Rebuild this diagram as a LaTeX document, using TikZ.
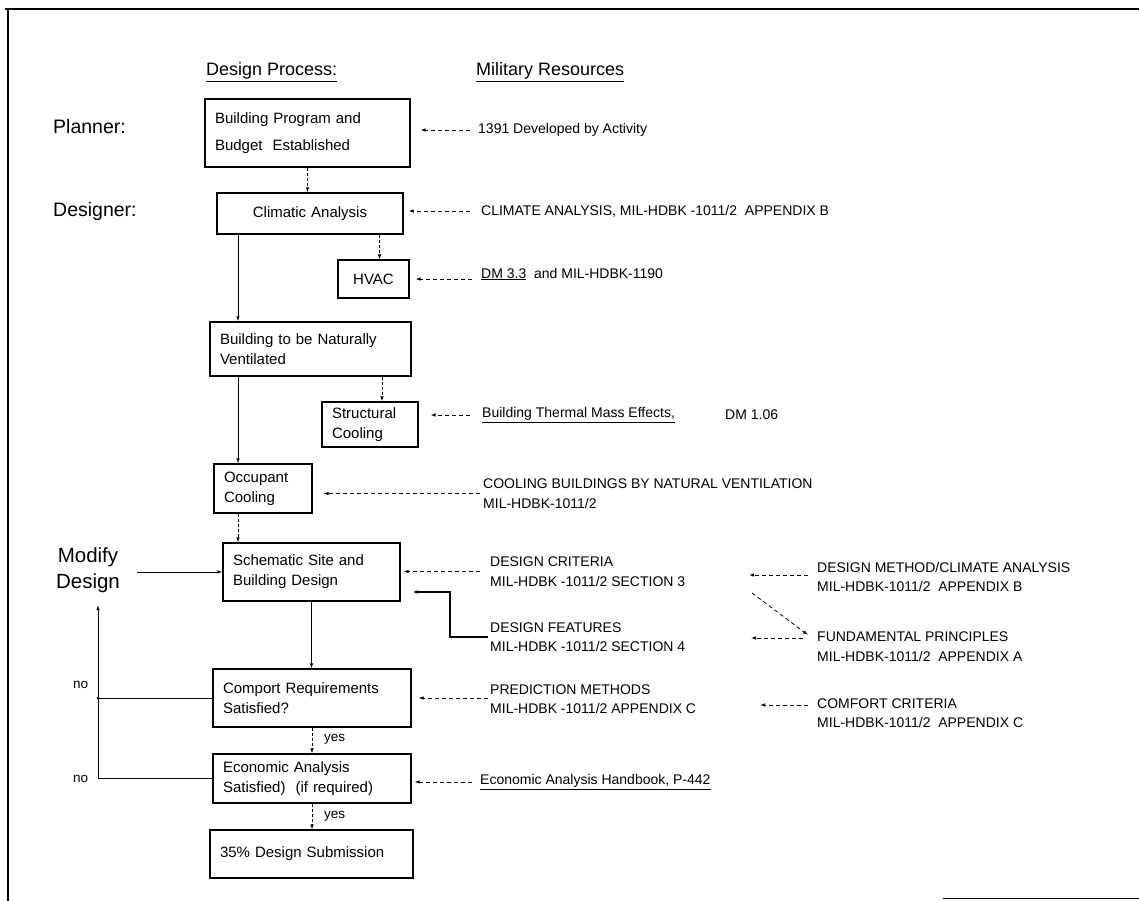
\documentclass[tikz,border=0pt]{standalone}
\usepackage{fontspec}
\setmainfont{Liberation Sans}
\usepackage{tikz}
\usetikzlibrary{arrows.meta, positioning, calc}

\newcommand{\procfont}{\fontsize{15}{20}\selectfont}
\newcommand{\resofont}{\fontsize{14}{19.5}\selectfont}
\newcommand{\headrfont}{\fontsize{18}{22}\selectfont}
\newcommand{\rolefont}{\fontsize{19.5}{24}\selectfont}
\newcommand{\ynfont}{\fontsize{13.5}{16}\selectfont}

\begin{document}
\begin{tikzpicture}[x=1pt, y=-1pt]
    % Define styles
    \tikzstyle{procbox}=[draw, rectangle, line width=1.2pt, align=left, inner xsep=10pt, inner ysep=0pt, font=\procfont]
    \tikzstyle{restext}=[anchor=west, inner sep=0pt, align=left, font=\resofont]
    \tikzstyle{flowline}=[line width=0.9pt]
    \tikzstyle{flowarrow}=[line width=0.9pt, -{Latex[length=5pt, width=3.5pt]}]
    \tikzstyle{flowdash}=[line width=0.8pt, dash pattern=on 3pt off 2pt, -{Latex[length=5pt, width=3.5pt]}]
    \tikzstyle{refarrow}=[line width=0.8pt, dash pattern=on 4pt off 3pt, -{Latex[length=5pt, width=3.5pt]}]

    \useasboundingbox (0,0) rectangle (1139,901);

    % Page frame
    \draw[line width=1.5pt] (5,9) -- (1139,9);
    \draw[line width=1.5pt] (8,9) -- (8,901);
    \draw[line width=1pt] (943,898) -- (1139,898);

    % Column headings and roles
    \node[anchor=west, inner sep=0pt, font=\headrfont] (hproc) at (206,72) {\underline{Design Process:}};
    \node[anchor=west, inner sep=0pt, font=\headrfont] (hmil) at (476,72) {\underline{Military Resources}};
    \node[anchor=west, inner sep=0pt, font=\rolefont] (planner) at (53,127) {Planner:};
    \node[anchor=west, inner sep=0pt, font=\rolefont] (designer) at (53,211) {Designer:};

    % Design process boxes
    \node[procbox, text width=185pt, minimum height=68pt, font=\fontsize{15}{27}\selectfont] (prog) at (307.5,133) {Building Program and\\Budget\ \ Established};
    \node[procbox, text width=166pt, minimum height=41pt, align=center] (clim) at (310,213.5) {Climatic Analysis};
    \node[procbox, text width=51pt, minimum height=38pt, align=center] (hvac) at (373.5,279) {HVAC};
    \node[procbox, text width=181pt, minimum height=54pt] (natvent) at (310.5,349) {Building to be Naturally\\Ventilated};
    \node[procbox, text width=76pt, minimum height=45pt] (struct) at (370,424.5) {Structural\\Cooling};
    \node[procbox, text width=78pt, minimum height=49pt] (occ) at (263,488.5) {Occupant\\Cooling};
    \node[procbox, text width=157pt, minimum height=58pt] (schem) at (311.5,572) {Schematic Site and\\Building Design};
    \node[procbox, text width=178pt, minimum height=58pt] (comf) at (312,698) {Comport Requirements\\Satisfied?};
    \node[procbox, text width=178pt, minimum height=49pt] (econ) at (312,778.5) {Economic Analysis\\Satisfied)\ \ (if required)};
    \node[procbox, text width=183pt, minimum height=48pt] (subm) at (311.5,854) {35\% Design Submission};

    % Main flow
    \coordinate (spine) at (238,0);
    \draw[flowdash] (prog.south) -- (prog.south |- clim.north);
    \draw[flowdash] ([xshift=6pt]clim.south -| hvac.north) -- ([xshift=6pt]hvac.north);
    \draw[flowarrow] (clim.south -| spine) -- (natvent.north -| spine);
    \draw[flowdash] ([xshift=12pt]natvent.south -| struct.north) -- ([xshift=12pt]struct.north);
    \draw[flowarrow] (natvent.south -| spine) -- (occ.north -| spine);
    \draw[flowdash] (occ.south -| spine) -- (schem.north -| spine);
    \draw[flowarrow] (schem.south) -- (schem.south |- comf.north);
    \draw[flowdash] (comf.south) -- (comf.south |- econ.north);
    \draw[flowdash] (econ.south) -- (econ.south |- subm.north);
    \node[anchor=west, inner sep=0pt, font=\ynfont] (yes1) at (324,739) {yes};
    \node[anchor=west, inner sep=0pt, font=\ynfont] (yes2) at (324,816) {yes};

    % Feedback loop
    \node[align=center, inner sep=0pt, font=\fontsize{20.5}{26}\selectfont] (modify) at (88,570) {Modify\\Design};
    \coordinate (fbtop) at (98,605);
    \coordinate (modtail) at (137,572);
    \draw[flowarrow] (econ.west) -| (fbtop);
    \draw[flowline] (comf.west) -- (comf.west -| fbtop);
    \fill (comf.west -| fbtop) circle (1.5pt);
    \draw[flowarrow] (modtail) -- (schem.west);
    \node[anchor=west, inner sep=0pt, font=\ynfont] (no1) at (73,685) {no};
    \node[anchor=west, inner sep=0pt, font=\ynfont] (no2) at (73,779) {no};

    % Military resources
    \node[restext] (r1391) at (478,130) {1391 Developed by Activity};
    \node[restext] (rclim) at (481,211) {CLIMATE ANALYSIS, MIL-HDBK -1011/2\ \ APPENDIX B};
    \node[restext] (rhvac) at (481,274) {\underline{DM 3.3}\ \ and MIL-HDBK-1190};
    \node[restext] (rmass) at (482,415) {\underline{Building Thermal Mass Effects,}};
    \node[restext] (rmassdm) at (725,415) {DM 1.06};
    \node[restext] (rcool) at (483,493.5) {COOLING BUILDINGS BY NATURAL VENTILATION\\MIL-HDBK-1011/2};
    \node[restext] (rcrit) at (490,571.5) {DESIGN CRITERIA\\MIL-HDBK -1011/2 SECTION 3};
    \node[restext] (rfeat) at (490,637) {DESIGN FEATURES\\MIL-HDBK -1011/2 SECTION 4};
    \node[restext] (rpred) at (490,699) {PREDICTION METHODS\\MIL-HDBK -1011/2 APPENDIX C};
    \node[restext] (recon) at (480,782) {\underline{Economic Analysis Handbook, P-442}};

    \draw[refarrow] ([xshift=-8pt]r1391.west) -- ([xshift=10pt]r1391.west -| prog.east);
    \draw[refarrow] ([xshift=-11pt]rclim.west) -- ([xshift=5pt]rclim.west -| clim.east);
    \draw[refarrow] ([xshift=-9pt]hvac.east -| rhvac.west) -- ([xshift=6pt]hvac.east);
    \draw[refarrow] ([xshift=-12pt]rmass.west) -- ([xshift=12pt]rmass.west -| struct.east);
    \draw[refarrow] ([xshift=-3pt]rcool.west) -- ([xshift=11pt]rcool.west -| occ.east);
    \draw[refarrow] ([xshift=-10pt]rcrit.west) -- ([xshift=3pt]rcrit.west -| schem.east);
    \draw[flowarrow, line width=1.2pt] ([xshift=-2pt]rfeat.west) -- ++(-38pt,0) |- ([xshift=12pt,yshift=-20pt]schem.east);
    \draw[refarrow] ([xshift=-2pt]comf.east -| rpred.west) -- ([xshift=7pt]comf.east);
    \draw[refarrow] ([xshift=-8pt]recon.west) -- ([xshift=3pt]recon.west -| econ.east);

    % Reference column
    \node[restext] (rmeth) at (817,577) {DESIGN METHOD/CLIMATE ANALYSIS\\MIL-HDBK-1011/2\ \ APPENDIX B};
    \node[restext] (rfund) at (817,646.5) {FUNDAMENTAL PRINCIPLES\\MIL-HDBK-1011/2\ \ APPENDIX A};
    \node[restext] (rcomf) at (817,713) {COMFORT CRITERIA\\MIL-HDBK-1011/2\ \ APPENDIX C};
    \coordinate (methtip) at (749,575);
    \coordinate (fundtip) at (751,638);
    \coordinate (comftip) at (760,705);
    \coordinate (diagtail) at (752,593);
    \coordinate (diaghead) at (808,635);
    \draw[refarrow] ([xshift=-9pt]rmeth.west |- methtip) -- (methtip);
    \draw[refarrow] ([xshift=-14pt]rfund.west |- fundtip) -- (fundtip);
    \draw[refarrow] ([xshift=-9pt]rcomf.west |- comftip) -- (comftip);
    \draw[refarrow] (diagtail) -- (diaghead);
\end{tikzpicture}
\end{document}
